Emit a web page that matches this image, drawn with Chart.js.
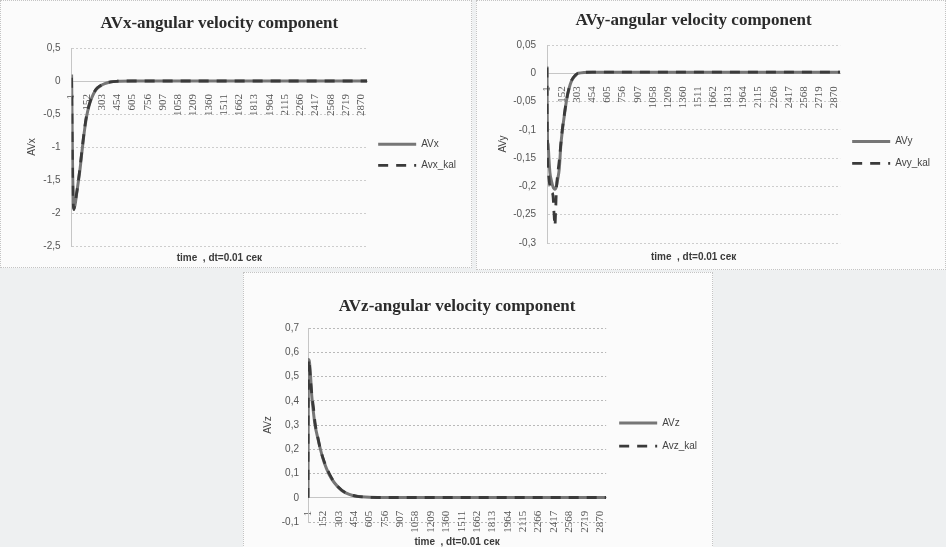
<!DOCTYPE html>
<html>
<head>
<meta charset="utf-8">
<title>Angular velocity components</title>
<script src="https://cdn.jsdelivr.net/npm/chart.js@4.4.1/dist/chart.umd.min.js"></script>
<style>
  html, body { margin: 0; padding: 0; }
  body { width: 946px; height: 547px; background: #eef0f1; position: relative; overflow: hidden; }
  .panel { position: absolute; background: #fbfbfb; outline: 1px dotted #c4c4c4; outline-offset: -1px; }
  .panel canvas { display: block; }
  #p1 { left: 0; top: 0; width: 472px; height: 268px; }
  #p2 { left: 476px; top: 0; width: 470px; height: 270px; }
  #p3 { left: 243px; top: 272px; width: 470px; height: 278px; }
</style>
</head>
<body>
<div class="panel" id="p1"><canvas id="avxChart" width="472" height="268"></canvas></div>
<div class="panel" id="p2"><canvas id="avyChart" width="470" height="270"></canvas></div>
<div class="panel" id="p3"><canvas id="avzChart" width="470" height="278"></canvas></div>
<script>
// sample index (dt = 0.01 s), labels shown on the category axis
const timeTicks = [1, 152, 303, 454, 605, 756, 907, 1058, 1209, 1360, 1511, 1662, 1813, 1964, 2115, 2266, 2417, 2568, 2719, 2870];
const lastSample = 2930;

// AVx
const avxTime = [1, 4, 8, 12, 16, 20, 26, 35, 50, 70, 85, 100, 118, 135, 152, 175, 202, 240, 286, 330, 387, 454, 605, 2930];
const avx     = [0.10, -0.35, -0.95, -1.45, -1.75, -1.90, -1.93, -1.88, -1.72, -1.50, -1.33, -1.12, -0.88, -0.68, -0.52, -0.37, -0.25, -0.14, -0.075, -0.04, -0.015, -0.005, 0, 0];
const avxKalTime = [1, 4, 8, 12, 16, 22, 30, 45, 65, 85, 100, 118, 135, 152, 175, 202, 240, 286, 330, 387, 454, 605, 2930];
const avxKal     = [0.05, -0.40, -1.00, -1.50, -1.80, -1.95, -1.90, -1.76, -1.55, -1.30, -1.10, -0.86, -0.66, -0.50, -0.36, -0.24, -0.13, -0.07, -0.035, -0.013, -0.004, 0, 0];

// AVy
const avyTime = [1, 3, 6, 12, 20, 30, 45, 60, 80, 95, 110, 123, 139, 155, 170, 198, 220, 245, 280, 311, 454, 2930];
const avy     = [0.012, -0.06, -0.12, -0.125, -0.15, -0.175, -0.19, -0.20, -0.205, -0.20, -0.185, -0.17, -0.128, -0.10, -0.08, -0.046, -0.028, -0.014, -0.005, 0, 0.002, 0.002];
const avyKalTime = [1, 3, 6, 12, 20, 30, 45, 60, 72, 80, 88, 95, 110, 123, 139, 155, 170, 198, 220, 245, 280, 311, 454, 2930];
const avyKal     = [0.01, -0.08, -0.15, -0.17, -0.185, -0.20, -0.21, -0.215, -0.25, -0.27, -0.24, -0.205, -0.175, -0.155, -0.125, -0.098, -0.078, -0.045, -0.027, -0.013, -0.004, 0, 0.002, 0.002];

// AVz
const avzTime = [1, 3, 6, 15, 25, 38, 55, 70, 95, 123, 160, 210, 260, 333, 400, 470, 605, 800, 2930];
const avz     = [0, 0.30, 0.57, 0.56, 0.51, 0.42, 0.35, 0.30, 0.25, 0.20, 0.145, 0.095, 0.062, 0.03, 0.015, 0.007, 0.002, 0.001, 0.001];
const avzKalTime = [1, 3, 6, 15, 25, 38, 55, 70, 95, 123, 160, 210, 260, 333, 400, 470, 605, 800, 2930];
const avzKal     = [0, 0.35, 0.57, 0.55, 0.49, 0.43, 0.37, 0.31, 0.255, 0.20, 0.15, 0.10, 0.064, 0.031, 0.016, 0.007, 0.002, 0.001, 0.001];

const textColor = '#555';
const sans = "'Liberation Sans', Arial, sans-serif";
const serif = "'Liberation Serif', 'Times New Roman', serif";

function toPoints(xs, ys) {
    return xs.map((x, i) => ({ x: x, y: ys[i] }));
}

function commaNumber(v) {
    return String(Number(v.toFixed(3))).replace('.', ',');
}

// default legend items lose the dash when usePointStyle is on, so put it back
function legendWithDash(chart) {
    return Chart.defaults.plugins.legend.labels.generateLabels(chart).map(item => {
        item.lineDash = chart.data.datasets[item.datasetIndex].borderDash || [];
        return item;
    });
}

function drawAngularChart(canvasId, o) {
    const ctx = document.getElementById(canvasId).getContext('2d');
    return new Chart(ctx, {
        type: 'line',
        data: {
            datasets: [{
                label: o.names[0],
                data: toPoints(o.time, o.values),
                borderColor: '#767676',
                borderWidth: 3,
                pointRadius: 0,
                tension: 0.4,
                cubicInterpolationMode: 'monotone'
            }, {
                label: o.names[1],
                data: toPoints(o.kalTime, o.kalValues),
                borderColor: '#3a3a3a',
                borderWidth: 2.8,
                borderDash: [10, 8],
                pointRadius: 0,
                tension: 0.4,
                cubicInterpolationMode: 'monotone',
                order: -1
            }]
        },
        options: {
            responsive: false,
            animation: false,
            layout: { padding: { left: 0, right: o.padRight, top: 0, bottom: 0 } },
            plugins: {
                title: {
                    display: true,
                    text: o.title,
                    fullSize: false,
                    color: '#2b2b2b',
                    font: { family: serif, size: 17, weight: 'bold' },
                    padding: o.titlePad
                },
                subtitle: {
                    display: true,
                    text: 'time  , dt=0.01 сек',
                    position: 'bottom',
                    fullSize: false,
                    color: '#3a3a3a',
                    font: { family: sans, size: 10, weight: 'bold' },
                    padding: o.xTitlePad
                },
                legend: {
                    position: 'right',
                    fullSize: false,
                    title: { display: true, text: ' ', padding: 0, font: { size: o.legendShift } },
                    labels: {
                        usePointStyle: true,
                        pointStyle: 'line',
                        pointStyleWidth: 38,
                        padding: o.legendGap,
                        color: '#444',
                        font: { family: sans, size: 10 },
                        generateLabels: legendWithDash,
                        sort: (a, b) => a.datasetIndex - b.datasetIndex
                    }
                },
                tooltip: { enabled: false }
            },
            scales: {
                x: {
                    type: 'linear',
                    position: { y: 0 },
                    min: 1,
                    max: lastSample,
                    grid: { display: false },
                    border: { display: true, color: '#c6c6c6' },
                    afterBuildTicks: scale => {
                        scale.ticks = timeTicks.map(v => ({ value: v }));
                    },
                    ticks: {
                        autoSkip: false,
                        minRotation: 90,
                        maxRotation: 90,
                        padding: 5,
                        color: textColor,
                        font: { family: serif, size: 11 },
                        callback: v => String(v)
                    }
                },
                y: {
                    min: o.yMin,
                    max: o.yMax,
                    afterFit: scale => { scale.width = o.yWidth; },
                    grid: { color: o.gridColor, drawTicks: false },
                    border: { display: true, color: '#c6c6c6', dash: [2, 2] },
                    ticks: {
                        stepSize: o.yStep,
                        padding: o.yLabelPad,
                        color: textColor,
                        font: { family: sans, size: 10 },
                        callback: v => commaNumber(v)
                    },
                    title: {
                        display: true,
                        text: o.yTitle,
                        color: '#444',
                        font: { family: sans, size: 10 },
                        padding: { top: o.yTitlePad, bottom: 0 }
                    }
                }
            }
        }
    });
}

drawAngularChart('avxChart', {
    title: 'AVx-angular velocity component',
    names: ['AVx', 'Avx_kal'],
    yTitle: 'AVx',
    time: avxTime, values: avx, kalTime: avxKalTime, kalValues: avxKal,
    yMin: -2.5, yMax: 0.5, yStep: 0.5,
    yWidth: 71.6, yLabelPad: 11, yTitlePad: 26,
    titlePad: { top: 13, bottom: 14.6 },
    xTitlePad: { top: 6, bottom: 4 },
    padRight: 6, legendGap: 11, legendShift: 13,
    gridColor: '#cdcdcd'
});

drawAngularChart('avyChart', {
    title: 'AVy-angular velocity component',
    names: ['AVy', 'Avy_kal'],
    yTitle: 'AVy',
    time: avyTime, values: avy, kalTime: avyKalTime, kalValues: avyKal,
    yMin: -0.3, yMax: 0.05, yStep: 0.05,
    yWidth: 71, yLabelPad: 11, yTitlePad: 21,
    titlePad: { top: 10, bottom: 14.6 },
    xTitlePad: { top: 8, bottom: 7 },
    padRight: 6, legendGap: 12, legendShift: 14,
    gridColor: '#cdcdcd'
});

drawAngularChart('avzChart', {
    title: 'AVz-angular velocity component',
    names: ['AVz', 'Avz_kal'],
    yTitle: 'AVz',
    time: avzTime, values: avz, kalTime: avzKalTime, kalValues: avzKal,
    yMin: -0.1, yMax: 0.7, yStep: 0.1,
    yWidth: 65, yLabelPad: 9, yTitlePad: 19,
    titlePad: { top: 24.8, bottom: 10.8 },
    xTitlePad: { top: 14, bottom: 2 },
    padRight: 6, legendGap: 13, legendShift: 16,
    gridColor: '#b9b9b9'
});
</script>
</body>
</html>
